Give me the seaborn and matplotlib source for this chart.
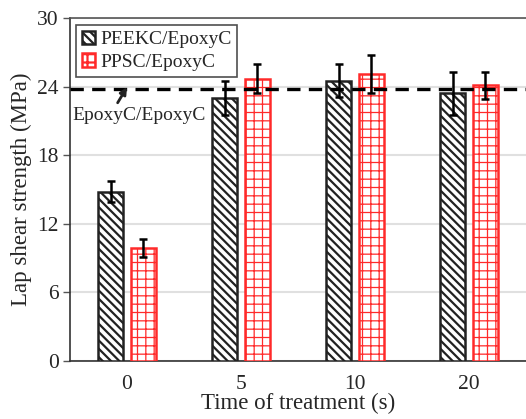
import matplotlib
matplotlib.use("Agg")
import matplotlib.pyplot as plt
import seaborn as sns
import pandas as pd
import numpy as np
from matplotlib.patches import Patch

times = ["0", "5", "10", "20"]
peek_vals = [14.8, 23.0, 24.5, 23.4]
peek_err = [0.9, 1.5, 1.45, 1.9]
pps_vals = [9.9, 24.7, 25.1, 24.1]
pps_err = [0.8, 1.3, 1.65, 1.15]
series = ["PEEKC/EpoxyC", "PPSC/EpoxyC"]
ref_value = 23.8
ref_label = "EpoxyC/EpoxyC"
yticks = [0, 6, 12, 18, 24, 30]

sns.set_theme(style="white")
plt.rcParams["font.family"] = ["Liberation Serif", "DejaVu Serif"]
plt.rcParams["hatch.linewidth"] = 1.6

df = pd.DataFrame({
    "time": times * 2,
    "val": peek_vals + pps_vals,
    "series": [series[0]] * 4 + [series[1]] * 4,
})

fig = plt.figure(figsize=(5.26, 4.19), dpi=100)
ax = fig.add_axes([70 / 526, 1 - 361 / 419, 456 / 526, 343 / 419])

sns.barplot(data=df, x="time", y="val", hue="series", order=times,
            hue_order=series, palette=["white", "white"], width=0.576, gap=0.22,
            errorbar=None, ax=ax, legend=False, zorder=3)

edge_colors = ["#222222", "#ff2a2a"]
hatches = ["\\\\\\\\", "++"]
hatch_lw = [1.6, 0.9]
errs = [peek_err, pps_err]
vals = [peek_vals, pps_vals]
bar_conts = list(ax.containers)
for i, cont in enumerate(bar_conts):
    for j, bar in enumerate(cont):
        bar.set_edgecolor(edge_colors[i])
        bar.set_hatch(hatches[i])
        bar.set_linewidth(1.8)
        if hasattr(bar, "set_hatch_linewidth"):
            bar.set_hatch_linewidth(hatch_lw[i])
        cx = bar.get_x() + bar.get_width() / 2
        ax.errorbar(cx, vals[i][j], yerr=errs[i][j], fmt="none", ecolor="black",
                    elinewidth=1.8, capsize=3, capthick=1.8, zorder=5)

ax.axhline(ref_value, color="black", linestyle=(0, (4, 2.5)), linewidth=2.4, zorder=4)
ax.annotate(ref_label, xy=(0.0, 23.95), xytext=(-0.48, 21.45),
            fontsize=14, ha="left", va="center",
            arrowprops=dict(arrowstyle="-|>", color="#222222", lw=2, mutation_scale=10,
                            shrinkA=1, shrinkB=0, relpos=(0.32, 1.0)), zorder=6)

ax.set_ylim(0, 30)
ax.set_xlim(-0.5, 3.5)
ax.set_yticks(yticks)
ax.yaxis.grid(True, color="#e0e0e0", linewidth=1.5, zorder=0)
ax.set_axisbelow(True)
for s in ["left", "bottom"]:
    ax.spines[s].set_color("#333333")
    ax.spines[s].set_linewidth(1.2)
ax.spines["right"].set_visible(False)
ax.spines["top"].set_color("#555555")
ax.spines["top"].set_linewidth(1.2)
ax.tick_params(axis="y", which="major", left=True, length=5, width=1, color="#555555",
               labelsize=15.5, pad=3)
ax.tick_params(axis="x", labelsize=15.5, pad=4)
ax.set_xlabel("Time of treatment (s)", fontsize=16.5, labelpad=-1)
ax.set_ylabel("Lap shear strength (MPa)", fontsize=16.5, labelpad=4)

handles = [Patch(facecolor="white", edgecolor=edge_colors[k], hatch=hatches[k], linewidth=1.8)
           for k in range(2)]
leg = ax.legend(handles, series, loc="upper left", bbox_to_anchor=(0.013, 0.98),
                fontsize=14, frameon=True, fancybox=False, edgecolor="#222222",
                handlelength=0.7, handleheight=0.7, handletextpad=0.25,
                borderpad=0.3, labelspacing=0.25, borderaxespad=0)
leg.get_frame().set_linewidth(1.2)

fig.savefig("out.png", dpi=100)
